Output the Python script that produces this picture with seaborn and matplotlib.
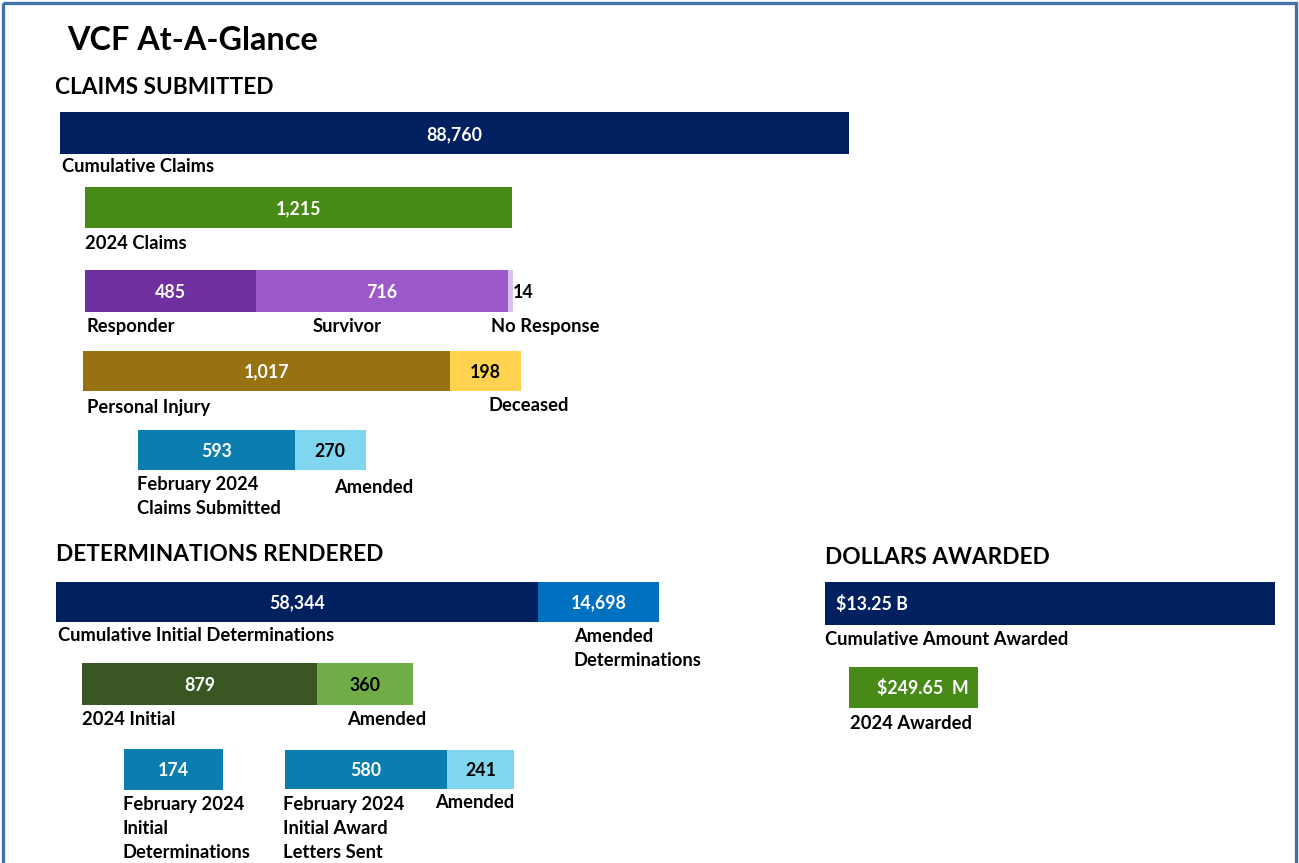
import matplotlib
matplotlib.use("Agg")
import matplotlib.pyplot as plt
from matplotlib.patches import Rectangle
import seaborn as sns
import numpy as np

# ---------------- data ----------------
title = "VCF At-A-Glance"
section_titles = ["CLAIMS SUBMITTED", "DETERMINATIONS RENDERED", "DOLLARS AWARDED"]

cum_claims_labels = ["Cumulative Claims"]
cum_claims_values = [88760]

claims_2024_labels = ["2024 Claims"]
claims_2024_values = [1215]

claimant_labels = ["Responder", "Survivor", "No Response"]
claimant_values = [485, 716, 14]

claim_kind_labels = ["Personal Injury", "Deceased"]
claim_kind_values = [1017, 198]

feb_claims_labels = ["February 2024\nClaims Submitted", "Amended"]
feb_claims_values = [593, 270]

det_cum_labels = ["Cumulative Initial Determinations", "Amended\nDeterminations"]
det_cum_values = [58344, 14698]

det_2024_labels = ["2024 Initial", "Amended"]
det_2024_values = [879, 360]

feb_det_labels = ["February 2024\nInitial\nDeterminations"]
feb_det_values = [174]

feb_award_labels = ["February 2024\nInitial Award\nLetters Sent", "Amended"]
feb_award_values = [580, 241]

dollars_cum_labels = ["Cumulative Amount Awarded"]
dollars_cum_values = [13.25]          # billions
dollars_cum_texts = ["$13.25 B"]

dollars_2024_labels = ["2024 Awarded"]
dollars_2024_values = [249.65]        # millions
dollars_2024_texts = ["$249.65  M"]

# ---------------- styles ----------------
NAVY = "#002060"
GREEN = "#478A16"
PURPLE = "#7030A0"
LPURPLE = "#9B59C9"
LAV = "#D8C2F0"
GOLD = "#977211"
YELLOW = "#FFD34F"
TEAL = "#0B7EAF"
LBLUE = "#80D6EE"
BLUE = "#0070C0"
DGREEN = "#3A5623"
MGREEN = "#70AD47"

FONT = "Lato"
W, H = 1299, 863

fig = plt.figure(figsize=(W / 100, H / 100), dpi=100)
fig.patch.set_facecolor("white")

overlay = fig.add_axes([0, 0, 1, 1], zorder=0)
overlay.set_xlim(0, W)
overlay.set_ylim(H, 0)
overlay.axis("off")
overlay.patch.set_alpha(0)

# page border
overlay.add_patch(Rectangle((3.5, 3.5), 1293, 900, fill=False,
                            edgecolor="#4272AA", linewidth=2.4, clip_on=False))

overlay.text(67, 41, title, fontsize=23.3, fontweight="bold", family=FONT,
             ha="left", va="center", color="black")
section_pos = [(55, 88), (56, 554), (825, 557)]
for t, (x, y) in zip(section_titles, section_pos):
    overlay.text(x, y, t, fontsize=16.3, fontweight="bold", family=FONT,
                 ha="left", va="center", color="black")

LBL = 13.2
VAL = 12.8
LINE = 24
DY = 2


def label(x, y, text, **kw):
    for i, line in enumerate(text.split("\n")):
        overlay.text(x, y + DY + i * LINE, line, fontsize=LBL, fontweight="bold",
                     family=FONT, ha="left", va="center", color="black", **kw)


def row(rect, values, colors, txtcolors, texts=None, valpos=None):
    """rect = (x0, y0, x1, y1) in pixels; values stacked left->right."""
    x0, y0, x1, y1 = rect
    ax = fig.add_axes([x0 / W, 1 - y1 / H, (x1 - x0) / W, (y1 - y0) / H], zorder=2)
    cum = np.cumsum(values)
    for i in range(len(values) - 1, -1, -1):
        sns.barplot(x=[cum[i]], y=["r"], orient="y", color=colors[i],
                    saturation=1, width=1, errorbar=None, linewidth=0, ax=ax)
    ax.set_xlim(0, cum[-1])
    ax.set_ylim(0.5, -0.5)
    ax.axis("off")
    starts = np.concatenate([[0], cum[:-1]])
    for i, v in enumerate(values):
        txt = texts[i] if texts is not None else f"{v:,}"
        mode = valpos[i] if valpos is not None else "center"
        kw = dict(va="center", fontsize=VAL, fontweight="bold", family=FONT,
                  color=txtcolors[i], clip_on=False)
        if mode == "center":
            ax.text(starts[i] + v / 2, 0.03, txt, ha="center", **kw)
        elif mode == "outside":
            ax.text(cum[i], 0.03, txt, ha="left", **kw)
        elif mode == "left":
            ax.text(0.025, 0.48, txt, ha="left", transform=ax.transAxes, **kw)
        elif mode == "right":
            ax.text(0.93, 0.48, txt, ha="right", transform=ax.transAxes, **kw)
    return ax


# ---- claims submitted ----
row((60, 112, 849, 154), cum_claims_values, [NAVY], ["white"])
label(62, 165, cum_claims_labels[0])

row((85, 187, 512, 228), claims_2024_values, [GREEN], ["white"])
label(85, 241, claims_2024_labels[0])

row((85, 270, 513, 312), claimant_values, [PURPLE, LPURPLE, LAV],
    ["white", "white", "black"], valpos=["center", "center", "outside"])
for t, x in zip(claimant_labels, [87, 313, 491]):
    label(x, 324, t)

row((83, 351, 521, 391), claim_kind_values, [GOLD, YELLOW], ["white", "black"])
label(87, 405, claim_kind_labels[0])
label(489, 403, claim_kind_labels[1])

row((138, 430, 366, 470), feb_claims_values, [TEAL, LBLUE], ["white", "black"])
label(137, 482, feb_claims_labels[0])
label(334, 485, feb_claims_labels[1])

# ---- determinations rendered ----
row((56, 582, 659, 622), det_cum_values, [NAVY, BLUE], ["white", "white"])
label(58, 633, det_cum_labels[0])
label(574, 634, det_cum_labels[1])

row((82, 663, 413, 705), det_2024_values, [DGREEN, MGREEN], ["white", "black"])
label(82, 717, det_2024_labels[0])
label(347, 717, det_2024_labels[1])

row((124, 749, 223, 790), feb_det_values, [TEAL], ["white"])
label(123, 802, feb_det_labels[0])

row((285, 750, 514, 789), feb_award_values, [TEAL, LBLUE], ["white", "black"])
label(283, 802, feb_award_labels[0])
label(435, 800, feb_award_labels[1])

# ---- dollars awarded ----
row((825, 582, 1275, 625), dollars_cum_values, [NAVY], ["white"],
    texts=dollars_cum_texts, valpos=["left"])
label(825, 637, dollars_cum_labels[0])

row((849, 667, 978, 708), dollars_2024_values, [GREEN], ["white"],
    texts=dollars_2024_texts, valpos=["right"])
label(850, 721, dollars_2024_labels[0])

fig.savefig("out.png", dpi=100)
